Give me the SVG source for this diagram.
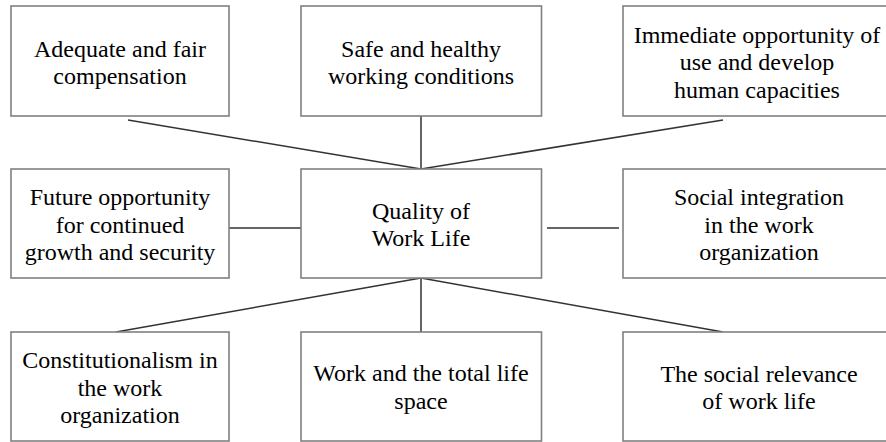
<svg xmlns="http://www.w3.org/2000/svg" width="886" height="442" viewBox="0 0 886 442">
<style>
.box{fill:#fff;stroke:#808080;stroke-width:1.6}
.conn{stroke:#333;stroke-width:1.5;fill:none}
.t{font-family:'Liberation Serif','Times New Roman','DejaVu Serif',serif;font-size:24px;fill:#000;text-anchor:middle}
</style>
<rect width="886" height="442" fill="#fff"/>
<g id="connectors">
<line class="conn" x1="128" y1="120" x2="421" y2="169"/>
<line class="conn" x1="421" y1="116" x2="421" y2="169"/>
<line class="conn" x1="723" y1="120" x2="421" y2="169"/>
<line class="conn" x1="229" y1="228" x2="301" y2="228"/>
<line class="conn" x1="547" y1="228" x2="619" y2="228"/>
<line class="conn" x1="421" y1="278" x2="116" y2="332"/>
<line class="conn" x1="421" y1="278" x2="421" y2="332"/>
<line class="conn" x1="421" y1="278" x2="723" y2="332"/>
</g>
<g class="t" font-family="Liberation Serif, Times New Roman, serif" font-size="24" text-anchor="middle">
<g id="n1">
<rect class="box" x="11" y="6" width="218" height="110"/>
<text x="120" y="56.5">Adequate and fair</text>
<text x="120" y="83.5">compensation</text>
</g>
<g id="n2">
<rect class="box" x="301" y="6" width="240.5" height="110"/>
<text x="421" y="56.5">Safe and healthy</text>
<text x="421" y="83.5">working conditions</text>
</g>
<g id="n3">
<rect class="box" x="623" y="6" width="272" height="110"/>
<text x="757" y="42.5">Immediate opportunity of</text>
<text x="757" y="70">use and develop</text>
<text x="757" y="97.5">human capacities</text>
</g>
<g id="n4">
<rect class="box" x="11" y="169" width="218" height="109"/>
<text x="120" y="205">Future opportunity</text>
<text x="120" y="232.5">for continued</text>
<text x="120" y="260">growth and security</text>
</g>
<g id="center">
<rect class="box" x="301" y="169" width="240.5" height="109"/>
<text x="421" y="218.5">Quality of</text>
<text x="421" y="246">Work Life</text>
</g>
<g id="n6">
<rect class="box" x="623" y="169" width="272" height="109"/>
<text x="759" y="205">Social integration</text>
<text x="759" y="232.5">in the work</text>
<text x="759" y="260">organization</text>
</g>
<g id="n7">
<rect class="box" x="11" y="332" width="218" height="109"/>
<text x="120" y="368">Constitutionalism in</text>
<text x="120" y="395.5">the work</text>
<text x="120" y="423">organization</text>
</g>
<g id="n8">
<rect class="box" x="301" y="332" width="240.5" height="109"/>
<text x="421" y="381">Work and the total life</text>
<text x="421" y="408.5">space</text>
</g>
<g id="n9">
<rect class="box" x="623" y="332" width="272" height="109"/>
<text x="759" y="381.5">The social relevance</text>
<text x="759" y="409">of work life</text>
</g>
</g>
</svg>
